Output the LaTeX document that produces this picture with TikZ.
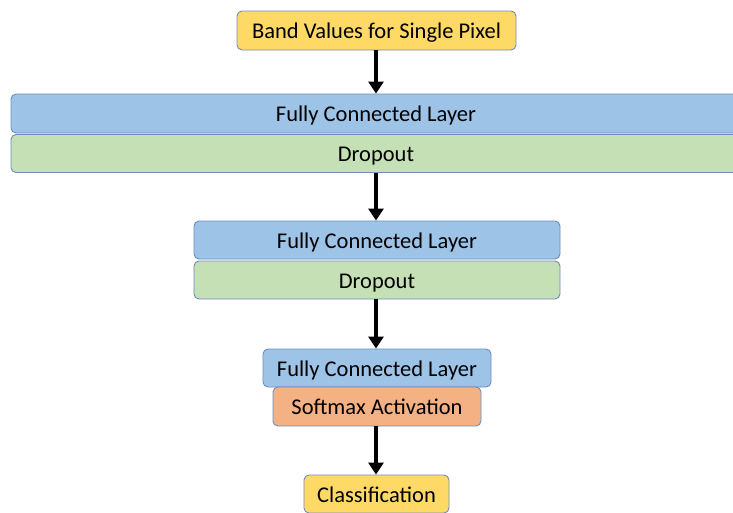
\documentclass[tikz,border=0pt]{standalone}
\usepackage{fontspec}
\setmainfont{Carlito}
\usetikzlibrary{arrows.meta}
\definecolor{boxline}{HTML}{6C8CC0}
\definecolor{yellowfill}{HTML}{FFD966}
\definecolor{bluefill}{HTML}{9DC3E6}
\definecolor{greenfill}{HTML}{C5E0B4}
\definecolor{orangefill}{HTML}{F4B183}
\tikzset{
  layerbox/.style={draw=boxline, line width=0.9pt, rounded corners=5pt,
    inner sep=0pt, font=\fontsize{22.5}{24}\selectfont, text=black,
    text height=18.5pt, text depth=2pt},
  flow/.style={line width=3.2pt, -{Triangle[width=15pt,length=12pt]}},
}
\begin{document}
\begin{tikzpicture}[x=1pt,y=-1pt]
\useasboundingbox (0,0) rectangle (733,512);
\node[layerbox, fill=yellowfill, minimum width=279pt, minimum height=39pt] (input) at (376.5,30.5) {Band Values for Single Pixel};
\node[layerbox, fill=bluefill, minimum width=730pt, minimum height=39pt] (fc1) at (376,113.5) {Fully Connected Layer};
\node[layerbox, fill=greenfill, minimum width=730pt, minimum height=38pt] (drop1) at (376,153.5) {Dropout};
\node[layerbox, fill=bluefill, minimum width=366pt, minimum height=38pt] (fc2) at (377,240) {Fully Connected Layer};
\node[layerbox, fill=greenfill, minimum width=366pt, minimum height=38pt] (drop2) at (377,280) {Dropout};
\node[layerbox, fill=bluefill, minimum width=228pt, minimum height=38pt] (fc3) at (377,368) {Fully Connected Layer};
\node[layerbox, fill=orangefill, minimum width=208pt, minimum height=39pt] (soft) at (377,406.5) {Softmax Activation};
\node[layerbox, fill=yellowfill, minimum width=145pt, minimum height=38pt] (cls) at (376.5,494) {Classification};
\draw[flow] (input.south -| 376,0) -- (fc1.north -| 376,0);
\draw[flow] (drop1.south -| 376,0) -- (fc2.north -| 376,0);
\draw[flow] (drop2.south -| 376,0) -- (fc3.north -| 376,0);
\draw[flow] (soft.south -| 376,0) -- (cls.north -| 376,0);
\end{tikzpicture}
\end{document}
